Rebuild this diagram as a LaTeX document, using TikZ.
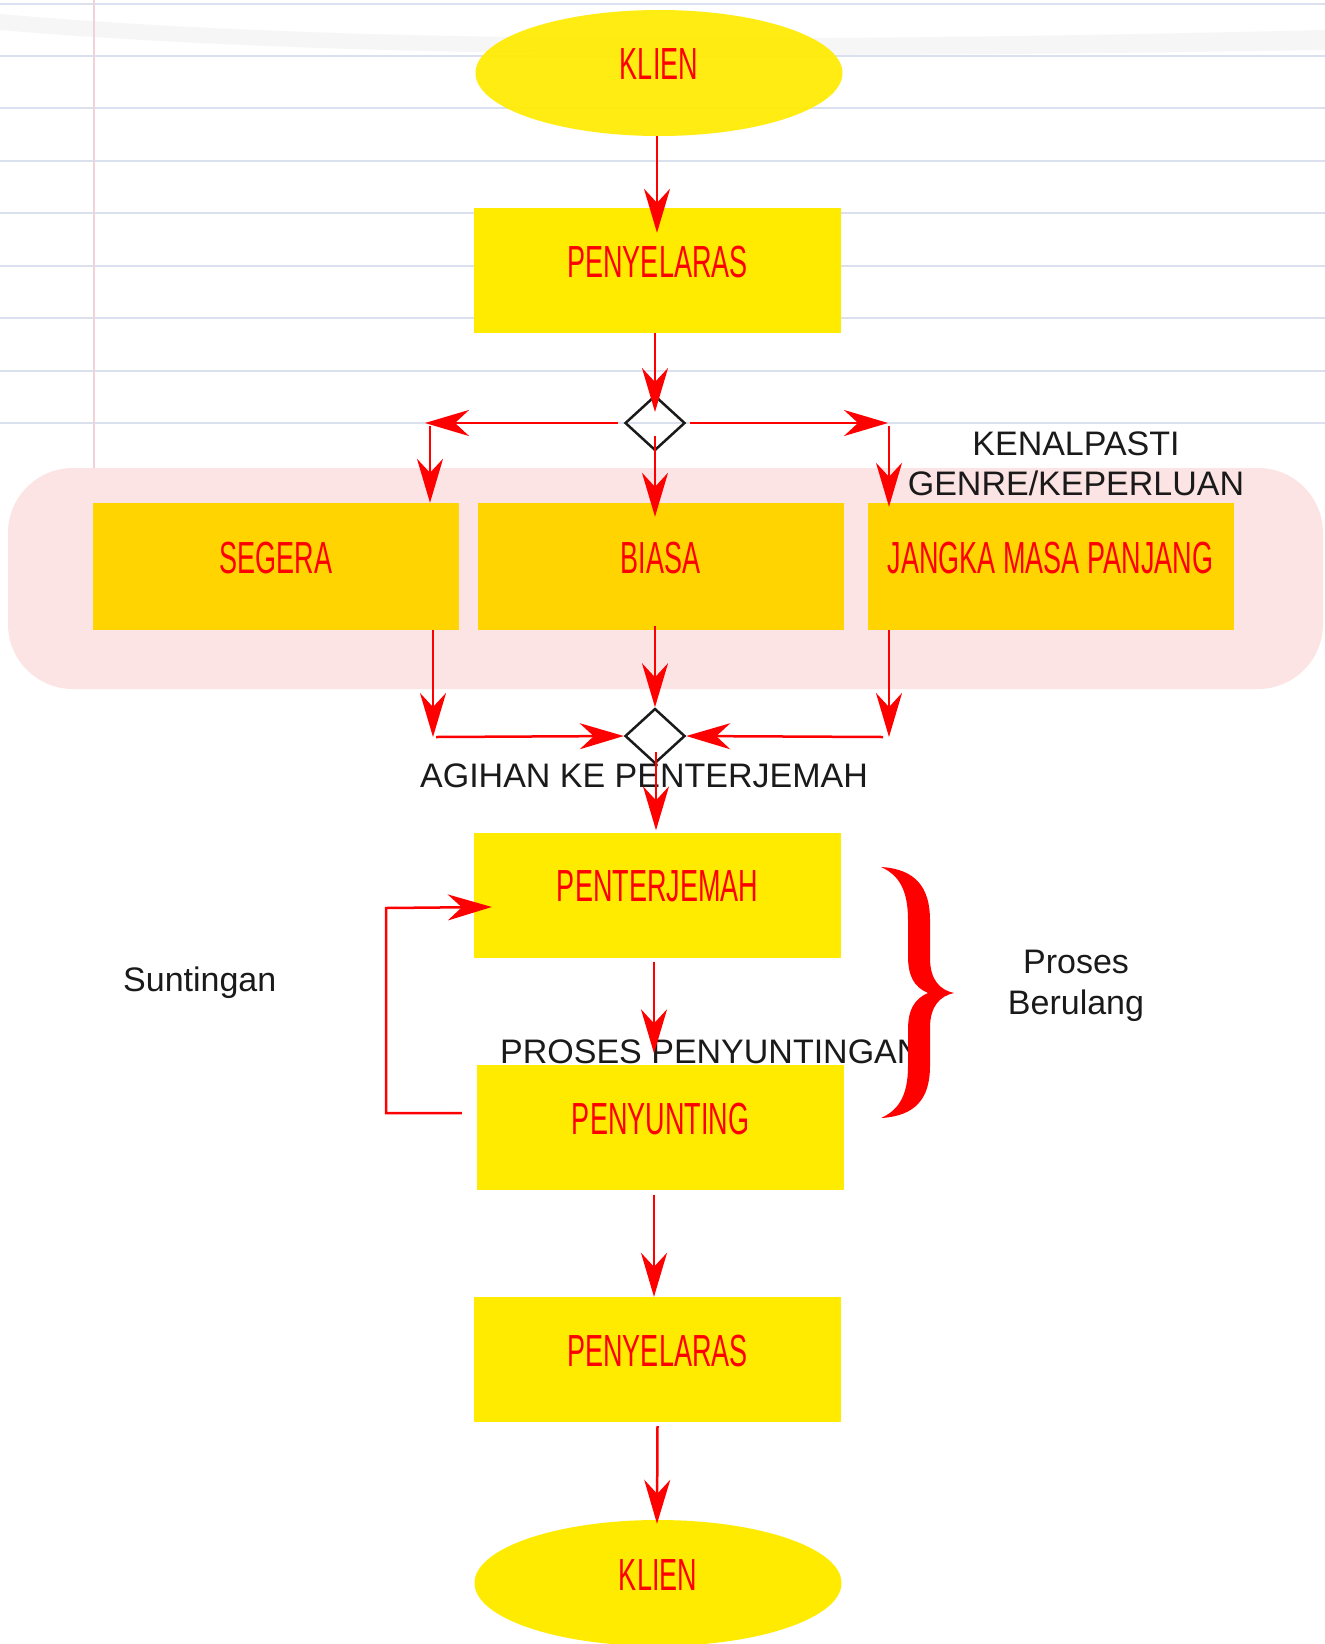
\documentclass[tikz,border=0pt]{standalone}
\usepackage{fontspec}
\setmainfont{Liberation Sans}
\newfontfamily\handfont[FakeStretch=0.6]{Liberation Sans}
\usetikzlibrary{arrows.meta,shapes.geometric,calc}
\definecolor{boxyellow}{RGB}{255,235,0}
\definecolor{boxgold}{RGB}{255,212,0}
\definecolor{bandpink}{RGB}{253,228,228}
\definecolor{paperline}{RGB}{218,224,238}
\definecolor{marginred}{RGB}{240,210,216}
\definecolor{inkgray}{RGB}{26,26,26}
\tikzset{
  ybox/.style={rectangle, fill=boxyellow, minimum width=367pt, minimum height=125pt,
    inner sep=0pt, text=red, text depth=17pt, font=\handfont\fontsize{45}{50}\selectfont},
  gbox/.style={ybox, fill=boxgold, minimum width=366pt, minimum height=127pt},
  oval/.style={ellipse, fill=boxyellow, minimum width=367pt, minimum height=126pt,
    inner sep=0pt, text=red, text depth=17pt, font=\handfont\fontsize{45}{50}\selectfont},
  dia/.style={diamond, draw=inkgray, line width=2.5pt, minimum width=60pt,
    minimum height=55pt, inner sep=0pt},
  lbl/.style={text=inkgray, inner sep=0pt, font=\fontsize{34}{38}\selectfont},
  lblk/.style={text=inkgray, inner sep=0pt, font=\fontsize{34}{40}\selectfont},
  lblb/.style={text=inkgray, inner sep=0pt, font=\fontsize{34}{41}\selectfont},
  arr/.style={draw=red, line width=2.5pt, -{Stealth[length=44pt,width=26pt,inset=14pt]}},
  pline/.style={draw=paperline, line width=1.6pt},
}
\begin{document}
\begin{tikzpicture}[x=1pt,y=-1pt]
\useasboundingbox (0,0) rectangle (1325,1644);
\fill[white] (0,0) rectangle (1325,1644);
% lined paper
\fill[black!6, opacity=0.6] (0,14) .. controls (300,40) and (700,45) .. (1325,30) -- (1325,50) .. controls (700,60) and (300,55) .. (0,30) -- cycle;
\foreach \yy in {4,56,108,161,213,266,318,371,423}
  \draw[pline] (0,\yy) -- (1325,\yy);
\draw[marginred, line width=1.2pt] (94,0) -- (94,470);
% band
\fill[bandpink, rounded corners=65pt] (8,468) rectangle (1323,689);
% nodes
\node[oval, fill opacity=0.93, text opacity=1] (k1) at (659,73) {KLIEN};
\node[ybox] (p1) at (657.5,270.5) {PENYELARAS};
\node[dia] (d1) at (655,423) {};
\node[gbox] (s) at (276,566.5) {SEGERA};
\node[gbox] (b) at (660.5,566.5) {BIASA};
\node[gbox] (j) at (1050.5,566.5) {JANGKA MASA PANJANG};
\node[dia] (d2) at (655,736) {};
\node[ybox] (t) at (657.5,895) {PENTERJEMAH};
\node[ybox] (e) at (660.5,1127) {PENYUNTING};
\node[ybox] (p2) at (657.5,1359.5) {PENYELARAS};
\node[oval] (k2) at (658,1583) {KLIEN};
% labels
\node[lblk, align=center] (kp) at (1076,463.5) {KENALPASTI\\GENRE/KEPERLUAN};
\node[lbl, anchor=base] (ag) at (644,787) {AGIHAN KE PENTERJEMAH};
\node[lbl, anchor=base west] (pp) at (500,1063) {PROSES PENYUNTINGAN};
\node[lbl, anchor=base west] (su) at (123,991) {Suntingan};
\node[lblb, align=center] (pb) at (1076,986) {Proses\\Berulang};
% coordinates
\coordinate (bl) at (425,423);
\coordinate (blv) at (430,426);
\coordinate (br) at (888,423);
\coordinate (brv) at (889,426);
\coordinate (cl) at (433,737);
\coordinate (cr) at (889,737);
\coordinate (fb1) at (386,1113);
\coordinate (fb2) at (386,908);
% connectors
\draw[arr] ($(k1.south)+(-2,0)$) -- ($(p1.north)+(-0.5,25)$);
\draw[arr] (p1.south -| d1.center) -- ($(d1.center)+(0,-11)$);
\draw[arr] ($(d1.west)+(-6,0)$) -- (bl);
\draw[arr] (blv) -- (s.north -| blv);
\draw[arr] ($(d1.east)+(4,0)$) -- (br);
\draw[arr] (brv) -- ($(j.north -| brv)+(0,4)$);
\draw[arr] ($(d1.center)+(0,13)$) -- ($(b.north -| d1.center)+(0,14)$);
\draw[arr] (s.south -| cl) -- (cl);
\draw[arr] ($(b.south -| d2.north)+(0,-4)$) -- (d2.north);
\draw[arr] (j.south -| cr) -- (cr);
\draw[arr] ($(cl)+(3,0)$) -- (d2.west);
\draw[arr] ($(cr)+(-6,0)$) -- (d2.east);
\draw[arr] ($(d2.center)+(1,16)$) -- ($(t.north -| d2.center)+(1,-2)$);
\draw[arr] ($(t.south)+(-3.5,4)$) -- ($(e.north)+(-6.5,-11)$);
\draw[arr] ($(e.west)+(-15,-14)$) -- (fb1) -- (fb2) -- ($(t.west)+(18,12)$);
\draw[arr] ($(e.south)+(-6.5,5)$) -- ($(p2.north)+(-3.5,0)$);
\draw[arr] ($(p2.south)+(0,4)$) -- ($(k2.north)+(-1,4)$);
% brace
\fill[red] (881,867) .. controls (916,869) and (930,888) .. (930,920)
  -- (930,958) .. controls (930,980) and (940,990) .. (954,993)
  .. controls (940,996) and (930,1006) .. (930,1028)
  -- (930,1066) .. controls (930,1098) and (916,1116) .. (881,1118)
  .. controls (899,1110) and (908,1095) .. (908,1066)
  -- (908,1030) .. controls (908,1010) and (914,999) .. (928,993)
  .. controls (914,987) and (908,976) .. (908,956)
  -- (908,920) .. controls (908,890) and (899,875) .. (881,867) -- cycle;
\end{tikzpicture}
\end{document}
